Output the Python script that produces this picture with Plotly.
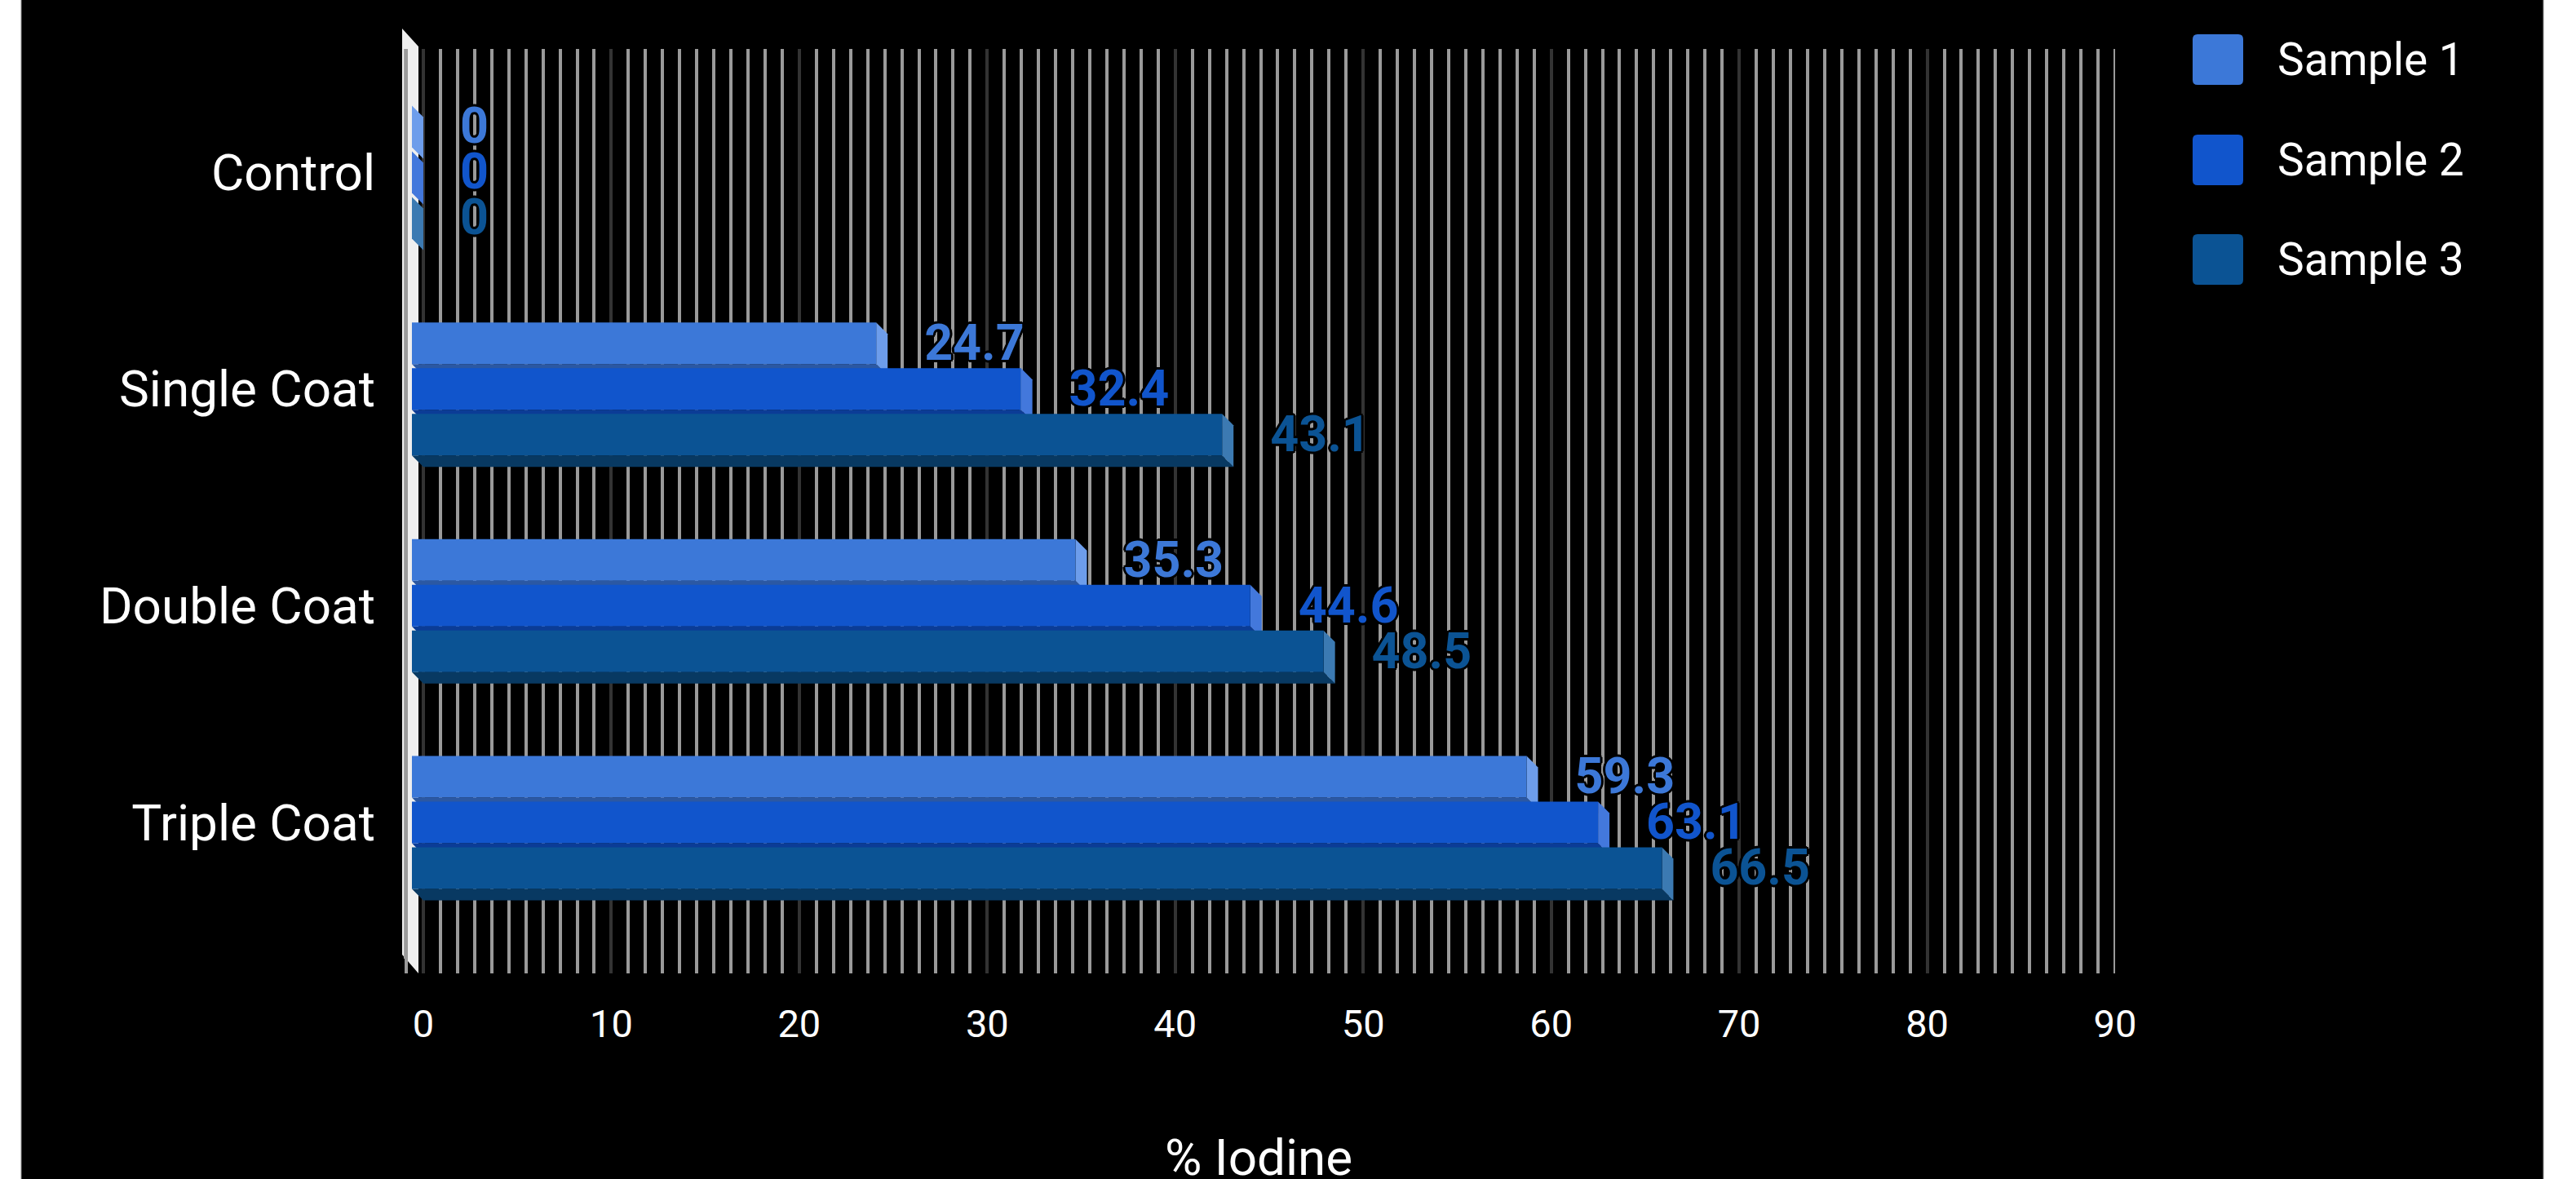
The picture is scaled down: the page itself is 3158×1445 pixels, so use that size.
import plotly.graph_objects as go

# ---------------- data ----------------
categories = ["Control", "Single Coat", "Double Coat", "Triple Coat"]
series_names = ["Sample 1", "Sample 2", "Sample 3"]
sample1 = [0, 24.7, 35.3, 59.3]
sample2 = [0, 32.4, 44.6, 63.1]
sample3 = [0, 43.1, 48.5, 66.5]
x_ticks = [0, 10, 20, 30, 40, 50, 60, 70, 80, 90]
x_title = "% Iodine"

series_values = [sample1, sample2, sample3]

# ---------------- style ----------------
front_colors = ["#3c78d8", "#1155cc", "#0b5394"]
side_colors = ["#6d9deb", "#4378dc", "#3c7ab2"]
bottom_colors = ["#2b58a3", "#0b3c96", "#083962"]
FONT = "Roboto, Arial, sans-serif"

W, H = 3158, 1445
PL, PR, PT, PB = 493, 2593, 60, 1193          # plot area in pixels
X_RANGE = [-1.128, 90]
Y_RANGE = [3.696, -0.568]                      # reversed category index axis
px_per_x = (PR - PL) / (X_RANGE[1] - X_RANGE[0])
px_per_y = (PB - PT) / (Y_RANGE[0] - Y_RANGE[1])

DEPTH_PX = 14
DX = DEPTH_PX / px_per_x                       # 3D depth in x units
DY = DEPTH_PX / px_per_y                       # 3D depth in y units
BAR_W = 51 / px_per_y
OFFSETS = [-56 / px_per_y, 0.0, 56 / px_per_y]
LABEL_GAP = 1.95
LABEL_DROP = 5 / px_per_y


def px_to_paper_x(p):
    return (p - PL) / (PR - PL)


def px_to_paper_y(p):
    return (PB - p) / (PB - PT)


fig = go.Figure()
shapes = []
annotations = []

# background white page margins
shapes.append(dict(type="rect", xref="paper", yref="paper",
                   x0=px_to_paper_x(-5), x1=px_to_paper_x(26),
                   y0=px_to_paper_y(H + 5), y1=px_to_paper_y(-5),
                   fillcolor="white", line=dict(color="#8a8a8a", width=1), layer="above"))
shapes.append(dict(type="rect", xref="paper", yref="paper",
                   x0=px_to_paper_x(3118), x1=px_to_paper_x(W + 5),
                   y0=px_to_paper_y(H + 5), y1=px_to_paper_y(-5),
                   fillcolor="white", line=dict(color="#8a8a8a", width=1), layer="above"))

# light boundary grid lines at axis ends (0 and 90)
for xv in (x_ticks[0], x_ticks[-1]):
    shapes.append(dict(type="line", xref="x", yref="paper", x0=xv, x1=xv, y0=0, y1=1,
                       line=dict(color="#9a9a9a", width=4), layer="between"))

# 3D left wall
wx0, wx1 = px_to_paper_x(493), px_to_paper_x(513)
shapes.append(dict(type="path", xref="paper", yref="paper",
                   path=(f"M {wx0},{px_to_paper_y(35)} L {wx1},{px_to_paper_y(57)} "
                         f"L {wx1},{px_to_paper_y(1193)} L {wx0},{px_to_paper_y(1170)} Z"),
                   fillcolor="#efefef", line=dict(width=0), layer="between"))
shapes.append(dict(type="line", xref="paper", yref="paper",
                   x0=px_to_paper_x(497), x1=px_to_paper_x(497),
                   y0=px_to_paper_y(1175), y1=px_to_paper_y(60),
                   line=dict(color="#a8a8a8", width=4), layer="between"))

# bars, 3D faces and labels
for s, (name, vals) in enumerate(zip(series_names, series_values)):
    ypos = [i + OFFSETS[s] for i in range(len(categories))]
    fig.add_trace(go.Bar(
        name=name, orientation="h", x=vals, y=ypos, base=-DX, width=BAR_W,
        marker=dict(color=front_colors[s], line=dict(width=0)),
        hoverinfo="skip", showlegend=False,
    ))
    h = BAR_W / 2
    for v, c in zip(vals, ypos):
        # bottom face
        shapes.append(dict(type="path", xref="x", yref="y",
                           path=(f"M {-DX},{c + h} L {v - DX},{c + h} "
                                 f"L {v},{c + h + DY} L 0,{c + h + DY} Z"),
                           fillcolor=bottom_colors[s], line=dict(width=0), layer="between"))
        # right end face
        shapes.append(dict(type="path", xref="x", yref="y",
                           path=(f"M {v - DX},{c - h} L {v},{c - h + DY} "
                                 f"L {v},{c + h + DY} L {v - DX},{c + h} Z"),
                           fillcolor=side_colors[s], line=dict(width=0), layer="between"))
    fig.add_trace(go.Scatter(
        x=[v + LABEL_GAP for v in vals], y=[c + LABEL_DROP for c in ypos], mode="text",
        text=[f"{v:g}" for v in vals], textposition="middle right",
        textfont=dict(family=FONT, size=61, color=front_colors[s], weight="bold",
                      shadow=("3px 0 0 #000, -3px 0 0 #000, 0 3px 0 #000, 0 -3px 0 #000, "
                              "2px 2px 0 #000, -2px -2px 0 #000, 2px -2px 0 #000, -2px 2px 0 #000")),
        hoverinfo="skip", showlegend=False,
    ))

# custom legend (large rounded squares)
leg_x0, leg_x1 = 2688, 2750
leg_centers = [73, 196, 318]
r = 6
for s, name in enumerate(series_names):
    cy = leg_centers[s]
    t, b = cy - 31, cy + 31
    X = px_to_paper_x
    Y = px_to_paper_y
    path = (f"M {X(leg_x0 + r)},{Y(t)} L {X(leg_x1 - r)},{Y(t)} Q {X(leg_x1)},{Y(t)} {X(leg_x1)},{Y(t + r)} "
            f"L {X(leg_x1)},{Y(b - r)} Q {X(leg_x1)},{Y(b)} {X(leg_x1 - r)},{Y(b)} "
            f"L {X(leg_x0 + r)},{Y(b)} Q {X(leg_x0)},{Y(b)} {X(leg_x0)},{Y(b - r)} "
            f"L {X(leg_x0)},{Y(t + r)} Q {X(leg_x0)},{Y(t)} {X(leg_x0 + r)},{Y(t)} Z")
    shapes.append(dict(type="path", xref="paper", yref="paper", path=path,
                       fillcolor=front_colors[s], line=dict(width=0), layer="above"))
    annotations.append(dict(xref="paper", yref="paper", x=px_to_paper_x(2790), y=px_to_paper_y(cy),
                            xanchor="left", yanchor="middle", showarrow=False, text=name,
                            font=dict(family=FONT, size=55, color="#ffffff")))

# x axis title
annotations.append(dict(xref="paper", yref="paper", x=0.5, y=px_to_paper_y(1418),
                        xanchor="center", yanchor="middle", showarrow=False, text=x_title,
                        font=dict(family=FONT, size=62, color="#ffffff")))

fig.update_layout(
    width=W, height=H,
    margin=dict(l=PL, r=W - PR, t=PT, b=H - PB, pad=0),
    paper_bgcolor="#000000", plot_bgcolor="#000000",
    barmode="overlay", showlegend=False,
    shapes=shapes, annotations=annotations,
    font=dict(family=FONT, color="#ffffff"),
    xaxis=dict(
        range=X_RANGE, tickmode="array", tickvals=x_ticks,
        showgrid=True, gridcolor="#333333", gridwidth=4,
        minor=dict(tick0=0, dtick=10 / 11, showgrid=True, gridcolor="#9a9a9a", gridwidth=4),
        zeroline=False, showline=False, ticks="",
        tickfont=dict(family=FONT, size=47, color="#ffffff"),
        ticklabelstandoff=30, fixedrange=True,
    ),
    yaxis=dict(
        range=Y_RANGE, tickmode="array", tickvals=list(range(len(categories))),
        ticktext=categories, showgrid=False, zeroline=False, showline=False, ticks="",
        tickfont=dict(family=FONT, size=62, color="#ffffff"),
        ticklabelstandoff=32, fixedrange=True,
    ),
)

fig.write_html("out.html", config={"displayModeBar": False})
